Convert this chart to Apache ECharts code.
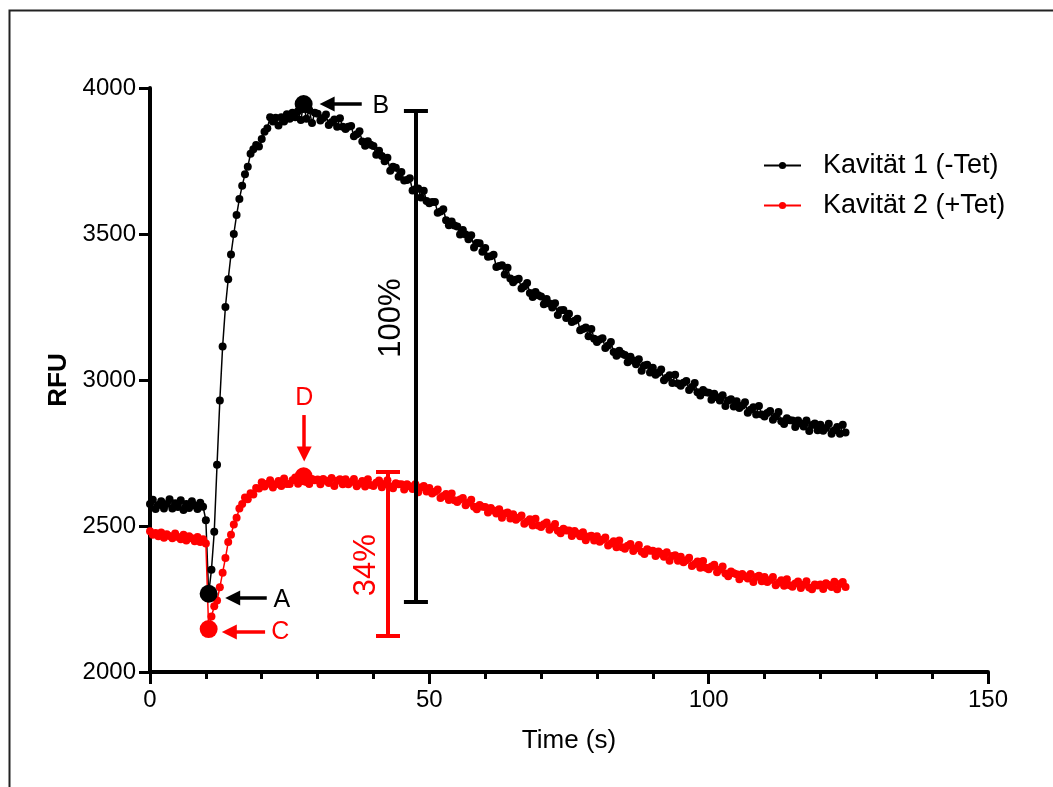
<!DOCTYPE html>
<html>
<head>
<meta charset="utf-8">
<script src="https://cdn.jsdelivr.net/npm/echarts@6/dist/echarts.min.js"></script>
<style>
html,body{margin:0;padding:0;background:#fff;}
#chart{width:1053px;height:787px;}
</style>
</head>
<body>
<div id="chart"></div>
<script>
// ---- Data ----
var seriesNames = ['Kavität 1 (-Tet)', 'Kavität 2 (+Tet)'];
var sampleStep = 0.5; // seconds between samples
var xTicks = [0, 50, 100, 150];
var yTicks = [2000, 2500, 3000, 3500, 4000];

var kavitaet1 = [
  2575, 2590, 2558, 2572, 2585, 2560, 2575, 2592, 2560, 2578,
  2565, 2588, 2555, 2575, 2562, 2585, 2570, 2558, 2580, 2566,
  2520, 2268, 2350, 2480, 2710, 2930, 3115, 3250, 3345, 3430,
  3500, 3565, 3620, 3665, 3705, 3730, 3775, 3790, 3805, 3800,
  3825, 3850, 3862, 3900, 3885, 3898, 3872, 3900, 3885, 3910,
  3895, 3915, 3900, 3920, 3890, 3945, 3895, 3925, 3880, 3915,
  3912, 3889, 3897, 3909, 3873, 3883, 3892, 3867, 3896, 3867,
  3860, 3867, 3870, 3835, 3842, 3852, 3817, 3802, 3818, 3806,
  3801, 3771, 3785, 3767, 3749, 3761, 3717, 3730, 3727, 3696,
  3712, 3683, 3685, 3691, 3649, 3653, 3656, 3625, 3648, 3613,
  3605, 3610, 3610, 3573, 3577, 3585, 3547, 3530, 3543, 3529,
  3526, 3498, 3514, 3498, 3482, 3496, 3454, 3469, 3468, 3439,
  3452, 3422, 3424, 3429, 3387, 3390, 3393, 3361, 3384, 3348,
  3335, 3343, 3347, 3313, 3321, 3332, 3298, 3284, 3301, 3290,
  3286, 3259, 3277, 3262, 3248, 3263, 3223, 3239, 3240, 3212,
  3227, 3199, 3203, 3210, 3170, 3175, 3180, 3150, 3175, 3141,
  3130, 3139, 3143, 3110, 3118, 3130, 3096, 3083, 3100, 3090,
  3086, 3061, 3080, 3067, 3054, 3071, 3032, 3050, 3052, 3026,
  3042, 3018, 3025, 3036, 2999, 3008, 3016, 2990, 3018, 2988,
  2980, 2991, 2997, 2966, 2976, 2990, 2958, 2947, 2966, 2958,
  2956, 2932, 2953, 2941, 2930, 2948, 2911, 2930, 2934, 2909,
  2927, 2904, 2912, 2924, 2888, 2898, 2907, 2882, 2911, 2882,
  2875, 2887, 2894, 2864, 2875, 2890, 2859, 2849, 2869, 2862,
  2861, 2839, 2861, 2851, 2841, 2861, 2825, 2846, 2851, 2828,
  2847, 2826, 2836, 2850, 2816, 2828, 2839, 2816, 2847, 2820
];

var kavitaet2 = [
  2482, 2470, 2476, 2465, 2478, 2460, 2472, 2466, 2458, 2474,
  2462, 2455, 2470, 2450, 2465, 2458, 2448, 2462, 2445, 2455,
  2440, 2147, 2190, 2225, 2245, 2290, 2340, 2390, 2445, 2470,
  2505, 2528, 2560, 2575, 2598, 2592, 2612, 2608, 2630, 2628,
  2650, 2635, 2645, 2657, 2632, 2643, 2654, 2637, 2663, 2644,
  2644, 2657, 2666, 2645, 2658, 2670, 2651, 2644, 2661, 2657,
  2659, 2643, 2661, 2655, 2647, 2664, 2637, 2655, 2660, 2643,
  2660, 2643, 2651, 2661, 2636, 2645, 2654, 2635, 2660, 2640,
  2637, 2648, 2656, 2633, 2644, 2657, 2636, 2629, 2646, 2643,
  2643, 2625, 2643, 2636, 2627, 2643, 2616, 2632, 2637, 2618,
  2630, 2611, 2617, 2625, 2596, 2603, 2610, 2589, 2611, 2588,
  2582, 2591, 2596, 2571, 2580, 2590, 2566, 2557, 2572, 2566,
  2565, 2546, 2562, 2553, 2543, 2557, 2528, 2543, 2546, 2526,
  2540, 2521, 2528, 2536, 2508, 2515, 2523, 2502, 2525, 2502,
  2497, 2506, 2512, 2487, 2497, 2507, 2484, 2475, 2491, 2485,
  2485, 2466, 2483, 2474, 2465, 2479, 2451, 2464, 2467, 2450,
  2465, 2446, 2453, 2461, 2433, 2440, 2448, 2427, 2450, 2427,
  2422, 2432, 2438, 2414, 2424, 2435, 2412, 2404, 2420, 2415,
  2415, 2397, 2413, 2405, 2395, 2410, 2381, 2397, 2400, 2381,
  2395, 2376, 2383, 2391, 2363, 2370, 2378, 2357, 2380, 2357,
  2352, 2361, 2367, 2342, 2351, 2361, 2337, 2328, 2344, 2338,
  2335, 2318, 2336, 2328, 2320, 2336, 2308, 2325, 2330, 2311,
  2325, 2308, 2315, 2325, 2297, 2306, 2314, 2295, 2318, 2297,
  2292, 2303, 2310, 2288, 2299, 2311, 2289, 2283, 2300, 2296,
  2300, 2284, 2304, 2298, 2291, 2309, 2283, 2301, 2308, 2291
];

// indices of the highlighted points
var idxMin = 21;   // A (black), C (red)
var idxMax = 55;   // B (black), D (red)

// ---- Build ----
function pairs(vals) {
  return vals.map(function (v, i) { return [i * sampleStep, v]; });
}
var d1 = pairs(kavitaet1);
var d2 = pairs(kavitaet2);

var FONT = 'Liberation Sans, Arial, sans-serif';
var chart = echarts.init(document.getElementById('chart'), null, {renderer: 'canvas'});

function arrowLine(from, to) {
  return [
    {coord: from, symbol: 'none'},
    {coord: to, symbol: 'triangle', symbolSize: [15, 15]}
  ];
}
function seg(from, to) {
  return [{coord: from, symbol: 'none'}, {coord: to, symbol: 'none'}];
}

var option = {
  animation: false,
  backgroundColor: '#fff',
  graphic: [{
    type: 'rect', left: 7, top: 8, z: 100, silent: true,
    shape: {width: 1100, height: 900},
    style: {fill: 'none', stroke: '#222', lineWidth: 2}
  }],
  grid: {left: 150, right: 65, top: 88, bottom: 115, containLabel: false},
  legend: {
    data: seriesNames,
    orient: 'vertical',
    left: 763, top: 152, padding: 0,
    itemWidth: 37, itemHeight: 9, itemGap: 13,
    textStyle: {fontSize: 27, color: '#000', fontFamily: FONT, padding: [0, 0, 0, 17]}
  },
  xAxis: {
    type: 'value', min: xTicks[0], max: xTicks[xTicks.length - 1], interval: 50,
    name: 'Time (s)', nameLocation: 'middle', nameGap: 56,
    nameTextStyle: {fontSize: 26, color: '#000', fontFamily: FONT},
    axisLine: {show: true, onZero: false, lineStyle: {color: '#000', width: 4}},
    axisTick: {show: true, length: 12, lineStyle: {color: '#000', width: 3}},
    minorTick: {show: true, splitNumber: 5, length: 7, lineStyle: {color: '#000', width: 3}},
    axisLabel: {fontSize: 24, color: '#000', fontFamily: FONT, margin: 16},
    splitLine: {show: false}, minorSplitLine: {show: false}
  },
  yAxis: {
    type: 'value', min: yTicks[0], max: yTicks[yTicks.length - 1], interval: 500,
    name: 'RFU', nameLocation: 'middle', nameGap: 72,
    nameTextStyle: {fontSize: 26, fontWeight: 'bold', color: '#000', fontFamily: FONT},
    axisLine: {show: true, onZero: false, lineStyle: {color: '#000', width: 4}},
    axisTick: {show: true, length: 11, lineStyle: {color: '#000', width: 3}},
    axisLabel: {fontSize: 24, color: '#000', fontFamily: FONT, margin: 14,
      formatter: function (v) { return String(v); }},
    splitLine: {show: false}
  },
  series: [
    {
      name: seriesNames[0], type: 'line', data: d1,
      symbol: 'circle', symbolSize: 8, showAllSymbol: true,
      itemStyle: {color: '#000'}, lineStyle: {color: '#000', width: 1.5},
      markLine: {
        silent: true, animation: false, label: {show: false},
        lineStyle: {color: '#000', width: 4, type: 'solid'},
        data: [
          seg([47.6, 3922], [47.6, 2240]),
          seg([45.45, 3922], [49.75, 3922]),
          seg([45.45, 2240], [49.75, 2240])
        ]
      }
    },
    {
      name: seriesNames[1], type: 'line', data: d2,
      symbol: 'circle', symbolSize: 8, showAllSymbol: true,
      itemStyle: {color: '#ff0000'}, lineStyle: {color: '#ff0000', width: 1.5},
      markLine: {
        silent: true, animation: false, label: {show: false},
        lineStyle: {color: '#ff0000', width: 4, type: 'solid'},
        data: [
          seg([42.6, 2685], [42.6, 2123]),
          seg([40.45, 2685], [44.75, 2685]),
          seg([40.45, 2123], [44.75, 2123])
        ]
      }
    },
    {
      name: 'arrowsBlack', type: 'line', data: [],
      markLine: {
        silent: true, animation: false, label: {show: false},
        lineStyle: {color: '#000', width: 3.5, type: 'solid'},
        itemStyle: {color: '#000'},
        data: [
          arrowLine([20.9, 2253], [14.8, 2253]),
          arrowLine([37.9, 3945], [31.7, 3945])
        ]
      }
    },
    {
      name: 'arrowsRed', type: 'line', data: [],
      markLine: {
        silent: true, animation: false, label: {show: false},
        lineStyle: {color: '#ff0000', width: 3.5, type: 'solid'},
        itemStyle: {color: '#ff0000'},
        data: [
          arrowLine([20.6, 2137], [14.2, 2137]),
          arrowLine([27.6, 2880], [27.6, 2747])
        ]
      }
    },
    {
      name: 'highlight', type: 'scatter', symbolSize: 18, z: 5,
      itemStyle: {opacity: 1},
      data: [
        {value: d1[idxMin], itemStyle: {color: '#000', opacity: 1}},
        {value: d1[idxMax], itemStyle: {color: '#000', opacity: 1}},
        {value: d2[idxMin], itemStyle: {color: '#ff0000', opacity: 1}},
        {value: d2[idxMax], itemStyle: {color: '#ff0000', opacity: 1}}
      ]
    },
    {
      name: 'labels', type: 'scatter', symbolSize: 1, silent: true, z: 6,
      itemStyle: {color: 'rgba(0,0,0,0)', opacity: 1},
      label: {show: true, position: 'inside', fontFamily: FONT, fontSize: 25,
        formatter: function (p) { return p.data.text; }},
      data: [
        {value: [23.6, 2247], text: 'A', label: {color: '#000'}},
        {value: [41.3, 3938], text: 'B', label: {color: '#000'}},
        {value: [23.3, 2137], text: 'C', label: {color: '#ff0000'}},
        {value: [27.6, 2938], text: 'D', label: {color: '#ff0000'}},
        {value: [43.3, 3212], text: '100%', label: {color: '#000', rotate: 90, fontSize: 31}},
        {value: [38.8, 2366], text: '34%', label: {color: '#ff0000', rotate: 90, fontSize: 31}}
      ]
    }
  ]
};
chart.setOption(option);
</script>
</body>
</html>
